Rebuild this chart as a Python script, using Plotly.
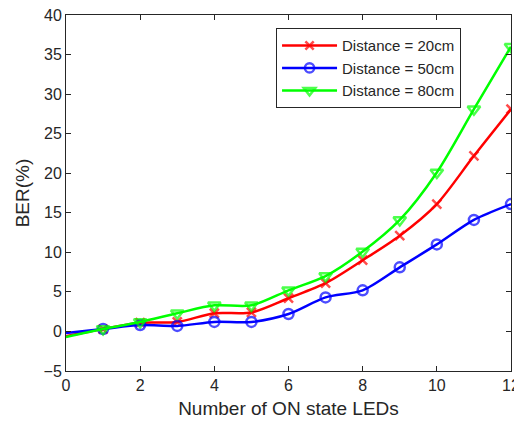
import plotly.graph_objects as go

leds = [0, 1, 2, 3, 4, 5, 6, 7, 8, 9, 10, 11, 12]
ber_20cm = [-0.6, 0.3, 1.1, 1.2, 2.3, 2.4, 4.2, 6.1, 9.0, 12.1, 16.1, 22.2, 28.1]
ber_50cm = [-0.2, 0.3, 0.8, 0.7, 1.2, 1.2, 2.2, 4.3, 5.2, 8.1, 11.0, 14.1, 16.1]
ber_80cm = [-0.7, 0.3, 1.2, 2.3, 3.3, 3.3, 5.2, 7.0, 10.1, 14.1, 20.1, 28.1, 36.0]
series_names = ["Distance = 20cm", "Distance = 50cm", "Distance = 80cm"]
x_ticks = [0, 2, 4, 6, 8, 10, 12]
y_ticks = [-5, 0, 5, 10, 15, 20, 25, 30, 35, 40]

styles = [
    dict(color="#FF0000", symbol="x-thin-open", size=9),
    dict(color="#0000FF", symbol="circle-open", size=10),
    dict(color="#00FF00", symbol="triangle-down-open", size=11),
]

FONT = "Liberation Sans, Arial"
fig = go.Figure()
for name, ys, st in zip(series_names, [ber_20cm, ber_50cm, ber_80cm], styles):
    sizes = [0] + [st["size"]] * (len(leds) - 1)
    fig.add_trace(go.Scatter(
        x=leds, y=ys, name=name, mode="lines+markers",
        line=dict(color=st["color"], width=2.5, shape="spline", smoothing=0.8),
        marker=dict(symbol=st["symbol"], size=sizes, color=st["color"],
                    line=dict(color=st["color"], width=2.5)),
    ))

axis_common = dict(
    showgrid=False, zeroline=False, showline=True, linecolor="#262626",
    linewidth=1, mirror="ticks", ticks="inside", ticklen=5, tickcolor="#262626",
    automargin=False, ticklabeloverflow="allow",
    tickfont=dict(family=FONT, size=16, color="#262626"),
)
fig.update_xaxes(range=[0, 12], tickvals=x_ticks,
                 title=dict(text="Number of ON state LEDs",
                            font=dict(family=FONT, size=19, color="#262626"),
                            standoff=8),
                 **axis_common)
fig.update_yaxes(range=[-5, 40], tickvals=y_ticks,
                 title=dict(text="BER(%)",
                            font=dict(family=FONT, size=19, color="#262626"),
                            standoff=8),
                 **axis_common)

fig.update_layout(
    width=514, height=415,
    margin=dict(l=58, r=11, t=7, b=52),
    plot_bgcolor="white", paper_bgcolor="white",
    legend=dict(x=0.472, y=0.963, xanchor="left", yanchor="top",
                bordercolor="#262626", borderwidth=1, bgcolor="white",
                itemwidth=55, tracegroupgap=0,
                font=dict(family=FONT, size=15, color="#262626")),
)

fig.write_html("out.html")
